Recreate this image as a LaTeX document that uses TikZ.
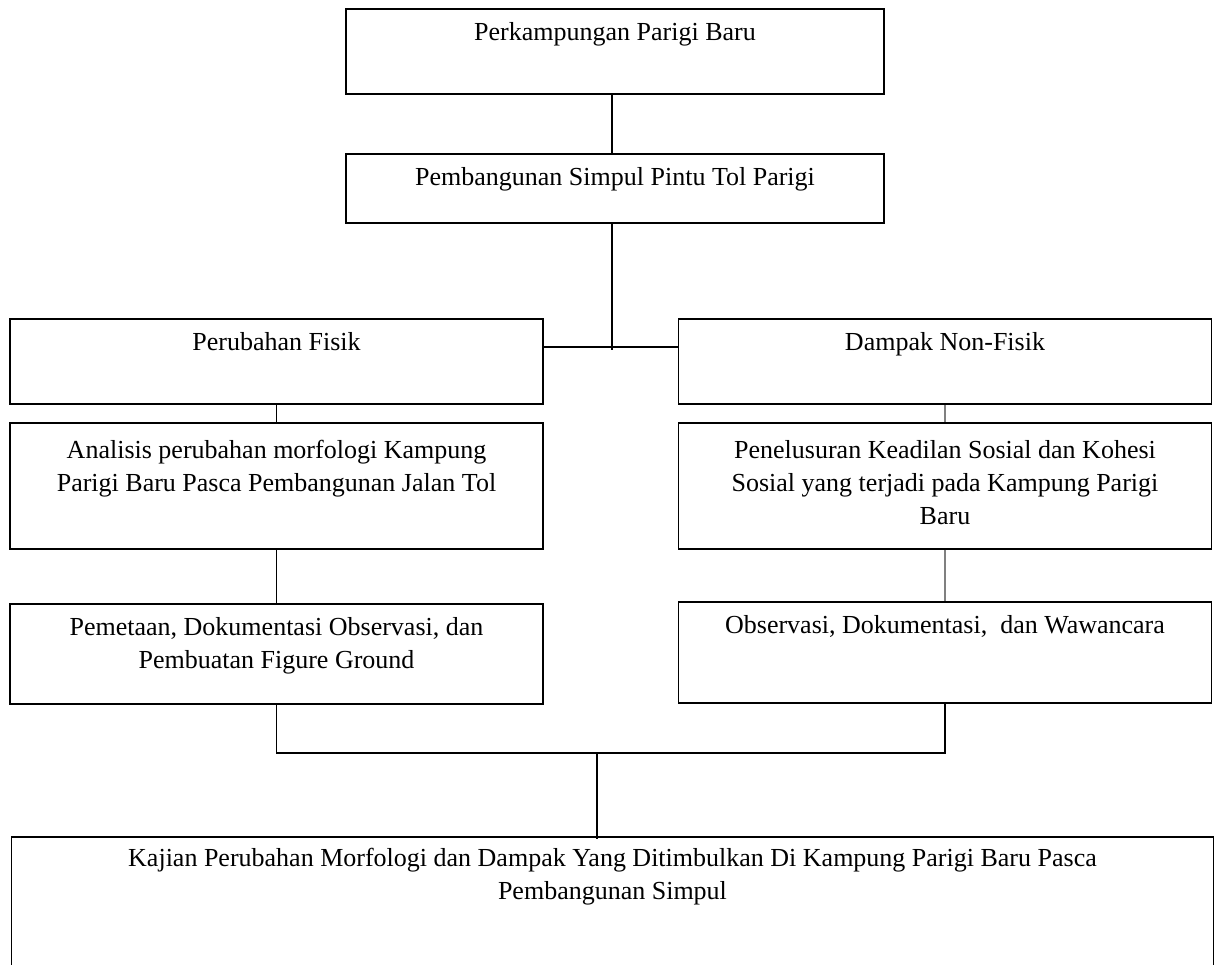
\documentclass[tikz,border=0pt]{standalone}
\usepackage{fontspec}
\setmainfont{Liberation Serif}
\begin{document}
\begin{tikzpicture}[x=0.5pt, y=-0.5pt,
    box/.style={rectangle, draw, line width=0.8pt, inner sep=0pt},
    sidebox/.style={box, minimum width=266.5pt},
    txt/.style={anchor=north, align=center, inner sep=0pt, yshift=-7pt, font=\fontsize{13}{16.5}\selectfont},
    link/.style={draw, line width=0.7pt},
    faint/.style={link, draw=gray}
]
\useasboundingbox (0,0) rectangle (1219,964);
% alur utama
\node[box, minimum width=269pt, minimum height=42.5pt, label={[txt]north:Perkampungan Parigi Baru}] (kampung) at (615,51.5) {};
\node[box, minimum width=269pt, minimum height=34.5pt, label={[txt]north:Pembangunan Simpul Pintu Tol Parigi}] (simpul) at (615,188.5) {};
% cabang kiri
\node[sidebox, minimum height=42.5pt, label={[txt]north:Perubahan Fisik}] (fisik) at (276.5,361.5) {};
\node[sidebox, minimum height=63pt, label={[txt, yshift=-2pt]north:Analisis perubahan morfologi Kampung\\Parigi Baru Pasca Pembangunan Jalan Tol}] (analisis) at (276.5,486) {};
\node[sidebox, minimum height=50pt, label={[txt]north:Pemetaan, Dokumentasi Observasi, dan\\Pembuatan Figure Ground}] (petakan) at (276.5,654) {};
% cabang kanan
\node[sidebox, minimum height=42.5pt, label={[txt]north:Dampak Non-Fisik}] (nonfisik) at (945,361.5) {};
\node[sidebox, minimum height=63pt, label={[txt, yshift=-2pt]north:Penelusuran Keadilan Sosial dan Kohesi\\Sosial yang terjadi pada Kampung Parigi\\Baru}] (telusur) at (945,486) {};
\node[sidebox, minimum height=50.5pt, label={[txt]north:Observasi, Dokumentasi, \ dan Wawancara}] (wawancara) at (945,652.5) {};
% hasil
\node[box, minimum width=601pt, minimum height=85pt, label={[txt, yshift=1pt]north:Kajian Perubahan Morfologi dan Dampak Yang Ditimbulkan Di Kampung Parigi Baru Pasca\\Pembangunan Simpul}] (kajian) at (612.5,922) {};

\coordinate (cabang) at (612,347);
\coordinate (gabung) at (597,753);

\draw[link] (kampung.south -| cabang) -- (simpul.north -| cabang);
\draw[link] (simpul.south -| cabang) -- ([yshift=-1.5pt]cabang);
\draw[link] (fisik.east |- cabang) -- (nonfisik.west |- cabang);
\draw[link] (fisik) -- (analisis);
\draw[faint] (nonfisik) -- (telusur);
\draw[link] (analisis) -- (petakan);
\draw[faint] (telusur) -- (wawancara);
\draw[link] (petakan.south) |- (gabung) -| (wawancara.south);
\draw[link] (gabung) -- ([yshift=-1.5pt]gabung |- kajian.north);
\end{tikzpicture}
\end{document}
